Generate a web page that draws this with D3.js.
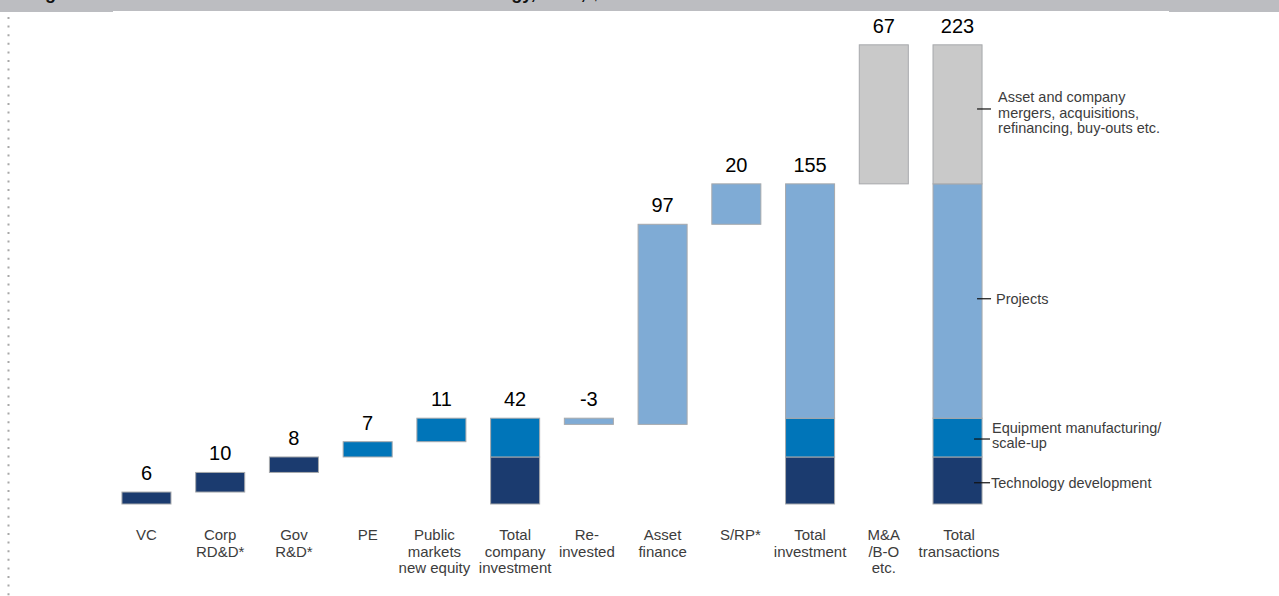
<!DOCTYPE html>
<html>
<head>
<meta charset="utf-8">
<script src="https://cdn.jsdelivr.net/npm/d3@7"></script>
<style>
  html, body { margin: 0; padding: 0; background: #fff; }
  svg { display: block; font-family: Arial, "Liberation Sans", sans-serif; }
</style>
</head>
<body>
<div id="chart"></div>
<script>
"use strict";

// categories (one array of text lines per bar)
var categories = [
  ["VC"], ["Corp", "RD&D*"], ["Gov", "R&D*"], ["PE"],
  ["Public", "markets", "new equity"], ["Total", "company", "investment"],
  ["Re-", "invested"], ["Asset", "finance"], ["S/RP*"],
  ["Total", "investment"], ["M&A", "/B-O", "etc."], ["Total", "transactions"]
];
// step values in $bn (as drawn), null = total bar
var values = [5.8, 9.5, 7.5, 7.4, 11.4, null, -3, 97, 19.6, null, 67.4, null];
// which stack segment a step belongs to
var segments = ["tech", "tech", "tech", "equip", "equip", null, "projects", "projects", "projects", null, "ma", null];

var segmentOrder = ["tech", "equip", "projects", "ma"];
var segmentColors = ["#1b3b6f", "#0075b9", "#7fabd5", "#c9c9c9"];
var legendLabels = [
  ["Technology development"],
  ["Equipment manufacturing/", "scale-up"],
  ["Projects"],
  ["Asset and company", "mergers, acquisitions,", "refinancing, buy-outs etc."]
];

var width = 1279, height = 596;

var svg = d3.select("#chart").append("svg")
    .attr("width", width)
    .attr("height", height);

// == header band ==
svg.append("rect")
    .attr("x", 0).attr("y", 0)
    .attr("width", width).attr("height", 12)
    .attr("fill", "#bcbdc1");
svg.append("rect")
    .attr("x", 113).attr("y", 11)
    .attr("width", 1169 - 113).attr("height", 1)
    .attr("fill", "#ffffff");
svg.append("text")
    .attr("x", 29).attr("y", -0.8)
    .style("font-size", "18px")
    .style("font-weight", "bold")
    .attr("fill", "#111")
    .text("Figure 1: New investment and transactions in clean energy, 2010, $bn");

// dotted left rule
svg.append("line")
    .attr("x1", 8.5).attr("x2", 8.5)
    .attr("y1", 17).attr("y2", height)
    .attr("stroke", "#a8a8a8")
    .attr("stroke-width", 2)
    .attr("stroke-dasharray", "2,6.6");

// == build the bars ==
var color = d3.scaleOrdinal().domain(segmentOrder).range(segmentColors);

var bars = [];   // {i, seg, y0, y1}
var running = 0;
var segTotals = { tech: 0, equip: 0, projects: 0, ma: 0 };
var labels = [];
values.forEach(function(v, i) {
  if (v === null) {
    var base = 0;
    segmentOrder.forEach(function(s) {
      if (segTotals[s] !== 0) {
        bars.push({ i: i, seg: s, y0: base, y1: base + segTotals[s] });
        base += segTotals[s];
      }
    });
    running = base;
    labels.push({ i: i, top: base, text: String(Math.round(base)) });
  } else {
    var start = running;
    running += v;
    segTotals[segments[i]] += v;
    bars.push({ i: i, seg: segments[i], y0: Math.min(start, running), y1: Math.max(start, running) });
    labels.push({ i: i, top: Math.max(start, running), text: String(Math.round(v)) });
  }
});

var x = d3.scaleBand()
    .domain(d3.range(categories.length))
    .range([109.6, 994.4])
    .paddingInner(0.335)
    .paddingOuter(0.1675);

var y = d3.scaleLinear()
    .domain([0, 223])
    .range([504, 44]);

svg.append("g").selectAll("rect")
    .data(bars)
  .enter().append("rect")
    .attr("x", function(d) { return x(d.i); })
    .attr("width", x.bandwidth())
    .attr("y", function(d) { return y(d.y1); })
    .attr("height", function(d) { return y(d.y0) - y(d.y1); })
    .attr("fill", function(d) { return color(d.seg); })
    .attr("stroke", "#a7a9ac")
    .attr("stroke-width", 1);

// value labels
svg.append("g").selectAll("text")
    .data(labels)
  .enter().append("text")
    .attr("x", function(d) { return x(d.i) + x.bandwidth() / 2; })
    .attr("y", function(d) { return y(d.top) - 12; })
    .attr("text-anchor", "middle")
    .style("font-size", "20px")
    .attr("fill", "#000")
    .text(function(d) { return d.text; });

// category labels (a couple sit slightly off centre in the original)
var labelShift = { 4: -7, 6: -2, 8: 4, 11: 1.5 };
var cat = svg.append("g").selectAll("text")
    .data(categories)
  .enter().append("text")
    .attr("text-anchor", "middle")
    .style("font-size", "15px")
    .attr("fill", "#3c3c3c")
    .attr("transform", function(d, i) {
      return "translate(" + (x(i) + x.bandwidth() / 2 + (labelShift[i] || 0)) + ",540)";
    });
cat.selectAll("tspan")
    .data(function(d) { return d; })
  .enter().append("tspan")
    .attr("x", 0)
    .attr("y", function(d, j) { return j * 16.5; })
    .text(function(d) { return d; });

// == legend pointers on the last bar ==
var lastX = x(categories.length - 1) + x.bandwidth();
var pointAt = [10.3, 31.5, 99.5, 191.5];   // where each pointer sits, in $bn
var textGap = [9, 10, 14, 16];
var legend = svg.append("g").selectAll("g")
    .data(legendLabels)
  .enter().append("g")
    .attr("transform", function(d, k) { return "translate(0," + y(pointAt[k]) + ")"; });
legend.append("line")
    .attr("x1", function(d, k) { return lastX - (k < 2 ? 8 : 5); })
    .attr("x2", function(d, k) { return lastX + (k < 2 ? 8 : 9); })
    .attr("y1", 0).attr("y2", 0)
    .attr("stroke", "#111")
    .attr("stroke-width", 1.2);
legend.append("text")
    .style("font-size", "14.5px")
    .attr("fill", "#3c3c3c")
    .each(function(d, k) {
      d3.select(this).selectAll("tspan")
          .data(d)
        .enter().append("tspan")
          .attr("x", lastX + textGap[k])
          .attr("y", function(t, j) { return d.length === 1 ? 5 : -6.5 + j * 15.2; })
          .text(function(t) { return t; });
    });
</script>
</body>
</html>
